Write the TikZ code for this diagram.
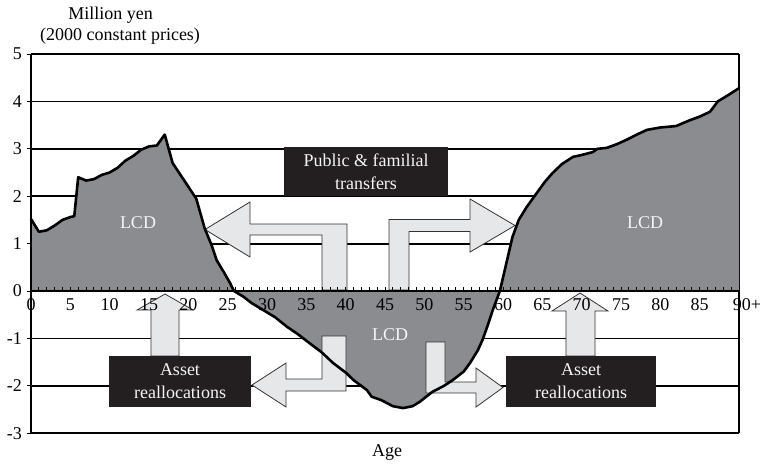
\documentclass[tikz,border=0pt]{standalone}
\usepackage{fontspec}
\setmainfont{Liberation Serif}
\definecolor{lcdgray}{HTML}{8B8C90}
\definecolor{arrowfill}{HTML}{E6E7E9}
\definecolor{arrowline}{HTML}{333333}
\definecolor{boxblack}{HTML}{231F20}
\definecolor{boxtext}{HTML}{F4F4F4}
\tikzset{
  every node/.style={font=\fontsize{18}{23}\selectfont},
  gridline/.style={line width=1.8pt, black},
  bigarrow/.style={fill=arrowfill, draw=arrowline, line width=0.8pt, line join=miter},
  darkbox/.style={fill=boxblack, text=boxtext, align=center, inner sep=0pt},
  lcdlabel/.style={text=boxtext},
  ticklabel/.style={inner sep=0pt},
}
\begin{document}
\begin{tikzpicture}[x=1pt,y=-1pt]
\useasboundingbox (0,0) rectangle (762,464);
% data scope: age along x, value along y
\begin{scope}[shift={(31,291)}, x=7.867pt, y=47.4pt]
  % grid lines
  \foreach \v in {-3,-2,-1,1,2,3,4,5} {
    \draw[gridline] (0,\v) -- (90,\v);
    \draw[line width=1pt] (-0.5,\v) -- (0,\v);
  }
  \draw[gridline] (90,-3) -- (90,5);
  % gray LCD region
  \fill[lcdgray] (0,0) -- (0,1.52) -- (1,1.25) -- (2,1.28) -- (3,1.38) -- (4,1.5) -- (5,1.56) -- (5.5,1.58) -- (6,2.4) -- (7,2.33) -- (8,2.36) -- (9,2.45) -- (10,2.5) -- (11,2.6) -- (12,2.75) -- (13,2.85) -- (14,2.98) -- (15,3.05) -- (16,3.07) -- (17,3.3) -- (18,2.7) -- (19,2.45) -- (20,2.2) -- (21,1.95) -- (22.1,1.31) -- (23,0.95) -- (23.6,0.65) -- (24.5,0.4) -- (25.3,0.17) -- (25.8,0)
    -- (27,-0.12) -- (28,-0.25) -- (29.5,-0.4) -- (31,-0.55) -- (32.5,-0.75) -- (34,-0.92) -- (35.4,-1.1) -- (37,-1.3) -- (38.4,-1.52) -- (40,-1.72) -- (41,-1.88) -- (42.7,-2.09) -- (43.3,-2.23) -- (44.5,-2.3) -- (46,-2.43) -- (47.3,-2.47) -- (48.5,-2.43) -- (49.4,-2.34) -- (51,-2.13) -- (52.5,-2.0) -- (53.6,-1.88) -- (55,-1.7) -- (55.8,-1.52) -- (56.8,-1.25) -- (57.4,-1.03) -- (58,-0.75) -- (58.7,-0.4) -- (59.6,0)
    -- (61.2,1.14) -- (62,1.5) -- (63,1.77) -- (64.3,2.07) -- (65.3,2.3) -- (66.3,2.49) -- (67.5,2.68) -- (68.9,2.83) -- (70,2.87) -- (71.4,2.93) -- (72,3.0) -- (73.2,3.02) -- (74.5,3.1) -- (75.7,3.19) -- (77,3.3) -- (78.3,3.4) -- (80,3.45) -- (82,3.48) -- (83.7,3.6) -- (85,3.68) -- (86.3,3.78) -- (87.3,4.0) -- (88.5,4.12) -- (90,4.28) -- (90,0) -- cycle;
  % left axis
  \draw[gridline] (0,-3) -- (0,5);
  \draw[line width=1pt] (-0.5,0) -- (0,0);
\end{scope}
% arrows
\draw[bigarrow] (347,290) -- (347,224) -- (250,224) -- (250,202) -- (205,229.5) -- (250,257) -- (250,235) -- (322,235) -- (322,290) -- cycle;
\draw[bigarrow] (389,290) -- (389,219.5) -- (470,219.5) -- (470,199) -- (515,225.5) -- (470,252) -- (470,231.5) -- (409,231.5) -- (409,290) -- cycle;
\draw[bigarrow] (151,356) -- (151,310) -- (137,310) -- (165,294) -- (193,310) -- (179,310) -- (179,356) -- cycle;
\draw[bigarrow] (566,356) -- (566,311) -- (552,311) -- (580,293) -- (608,311) -- (595,311) -- (595,356) -- cycle;
\draw[bigarrow] (346,336) -- (346,391) -- (286,391) -- (286,407) -- (252,385) -- (286,363) -- (286,379) -- (322,379) -- (322,336) -- cycle;
\draw[bigarrow] (426,342) -- (426,393) -- (476,393) -- (476,407) -- (503,387.5) -- (476,368) -- (476,382) -- (445,382) -- (445,342) -- cycle;
\begin{scope}[shift={(31,291)}, x=7.867pt, y=47.4pt]
  % zero axis with yearly ticks
  \draw[line width=2pt] (0,0) -- (90,0);
  \foreach \a in {0,...,90} \draw[line width=0.9pt] (\a,0) -- (\a,0.085);
  % curve
  \draw[line width=2.6pt, line join=round, line cap=round] (0,1.52) -- (1,1.25) -- (2,1.28) -- (3,1.38) -- (4,1.5) -- (5,1.56) -- (5.5,1.58) -- (6,2.4) -- (7,2.33) -- (8,2.36) -- (9,2.45) -- (10,2.5) -- (11,2.6) -- (12,2.75) -- (13,2.85) -- (14,2.98) -- (15,3.05) -- (16,3.07) -- (17,3.3) -- (18,2.7) -- (19,2.45) -- (20,2.2) -- (21,1.95) -- (22.1,1.31) -- (23,0.95) -- (23.6,0.65) -- (24.5,0.4) -- (25.3,0.17) -- (25.8,0)
    -- (27,-0.12) -- (28,-0.25) -- (29.5,-0.4) -- (31,-0.55) -- (32.5,-0.75) -- (34,-0.92) -- (35.4,-1.1) -- (37,-1.3) -- (38.4,-1.52) -- (40,-1.72) -- (41,-1.88) -- (42.7,-2.09) -- (43.3,-2.23) -- (44.5,-2.3) -- (46,-2.43) -- (47.3,-2.47) -- (48.5,-2.43) -- (49.4,-2.34) -- (51,-2.13) -- (52.5,-2.0) -- (53.6,-1.88) -- (55,-1.7) -- (55.8,-1.52) -- (56.8,-1.25) -- (57.4,-1.03) -- (58,-0.75) -- (58.7,-0.4) -- (59.6,0)
    -- (61.2,1.14) -- (62,1.5) -- (63,1.77) -- (64.3,2.07) -- (65.3,2.3) -- (66.3,2.49) -- (67.5,2.68) -- (68.9,2.83) -- (70,2.87) -- (71.4,2.93) -- (72,3.0) -- (73.2,3.02) -- (74.5,3.1) -- (75.7,3.19) -- (77,3.3) -- (78.3,3.4) -- (80,3.45) -- (82,3.48) -- (83.7,3.6) -- (85,3.68) -- (86.3,3.78) -- (87.3,4.0) -- (88.5,4.12) -- (90,4.28);
\end{scope}
% boxes
\node[darkbox, minimum width=164pt, minimum height=49pt] (pub) at (366,171.5) {Public \& familial\\transfers};
\node[darkbox, minimum width=142pt, minimum height=51pt] (assetL) at (180,381.5) {Asset\\reallocations};
\node[darkbox, minimum width=150pt, minimum height=51pt] (assetR) at (581,381.5) {Asset\\reallocations};
% LCD labels
\node[lcdlabel] (lcdL) at (138,223) {LCD};
\node[lcdlabel] (lcdM) at (390,335) {LCD};
\node[lcdlabel] (lcdR) at (645,223) {LCD};
% y tick labels
\foreach \v in {-3,...,5} {
  \node[ticklabel, anchor=east] (yl\v) at (22,{291-47.4*\v}) {\v};
}
% x tick labels
\foreach \a in {0,5,...,85} {
  \node[ticklabel] (xl\a) at ({31+7.867*\a},305) {\a};
}
\node[ticklabel] (xl90) at (747,305) {90+};
% titles
\node (unit1) at (110.5,15) {Million yen};
\node (unit2) at (120,36) {(2000 constant prices)};
\node (age) at (387,452) {Age};
\end{tikzpicture}
\end{document}
